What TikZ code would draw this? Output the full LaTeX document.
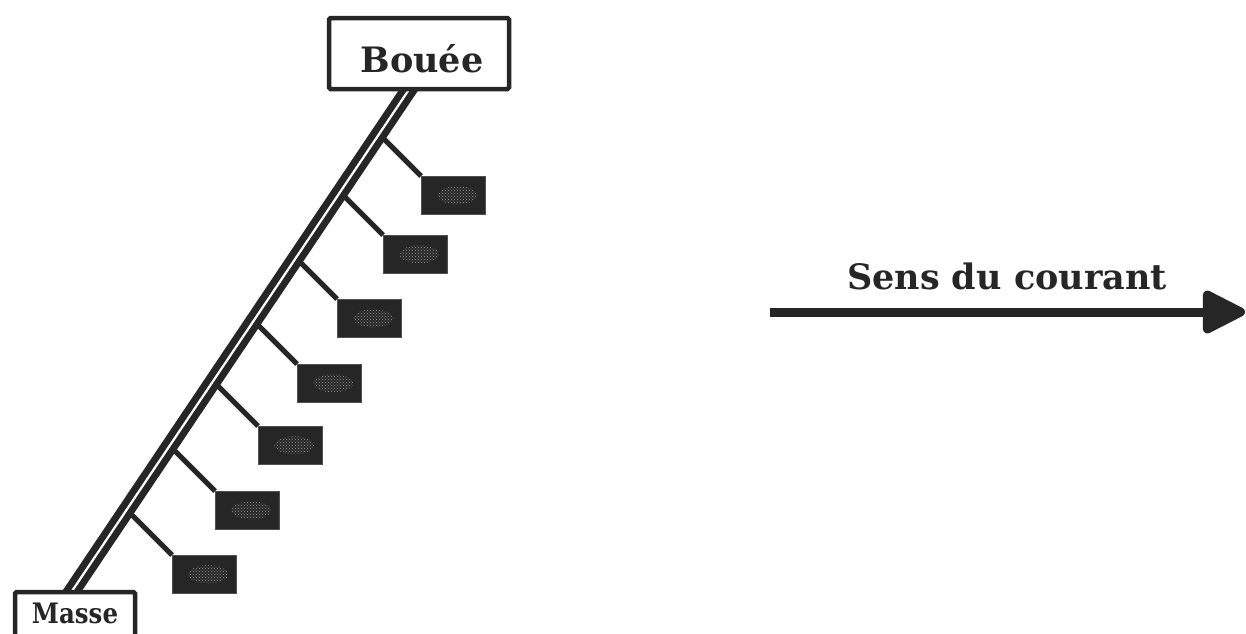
\documentclass[tikz,border=0pt]{standalone}
\usepackage{fontspec}
\setmainfont{DejaVu Serif}
\usetikzlibrary{arrows.meta,intersections,patterns}
\definecolor{ink}{HTML}{262626}
\tikzset{
  frame/.style={draw=ink, line width=4.5pt, fill=white, rounded corners=1.5pt, inner sep=0pt},
  instrument/.style={fill=ink, draw=ink!80, line width=0.6pt, minimum width=64pt, minimum height=38pt, inner sep=0pt, anchor=north west},
  speckle/.style={pattern=crosshatch dots, pattern color=gray!80},
  branch/.style={draw=ink, line width=5pt},
  cablestyle/.style={draw=ink, line width=7pt, double=white, double distance=2.2pt},
  bigtext/.style={font=\bfseries\fontsize{35}{42}\selectfont, text=ink, inner sep=0pt, anchor=base},
  smalltext/.style={font=\bfseries\fontsize{24.5}{30}\selectfont, text=ink, inner sep=0pt, anchor=base},
  current/.style={draw=ink, line width=9pt, -{Triangle[length=48pt, width=46pt, round]}}
}
\begin{document}
\begin{tikzpicture}[x=1pt,y=-1pt]
\useasboundingbox (0,0) rectangle (1246,633);
\fill[white] (0,0) rectangle (1246,633);
% cable end points
\coordinate (ctop) at (415.4,80);
\coordinate (cbot) at (66,600);
\path[name path=cable] (ctop) -- (cbot);
% instruments
\foreach \i/\x/\y in {1/421/176, 2/383/235, 3/337/299, 4/297/364, 5/258/426, 6/215/491, 7/172/555} {
  \node[instrument] (b\i) at (\x,\y) {};
  \fill[speckle] ([xshift=4pt]b\i.center) ellipse [x radius=20pt, y radius=9pt];
  \path[name path=bp\i] (b\i.north west) -- ++(-90,-90);
  \path[name intersections={of=cable and bp\i, by=a\i}];
  \draw[branch] (b\i.north west) -- (a\i);
}
% cable
\draw[cablestyle] (ctop) -- (cbot);
% buoy and weight
\node[frame, minimum width=180pt, minimum height=71pt] (bouee) at (419,53.5) {};
\node[bigtext] (boueetxt) at (422,72) {Bouée};
\node[frame, minimum width=120pt, minimum height=60pt] (masse) at (75,622) {};
\node[smalltext] (massetxt) at (75,623) {\scalebox{1}[1.15]{Masse}};
% current arrow
\coordinate (astart) at (770,312);
\coordinate (aend) at (1245,312);
\draw[current] (astart) -- (aend);
\node[bigtext] (sens) at (1007,289) {Sens du courant};
\end{tikzpicture}
\end{document}
